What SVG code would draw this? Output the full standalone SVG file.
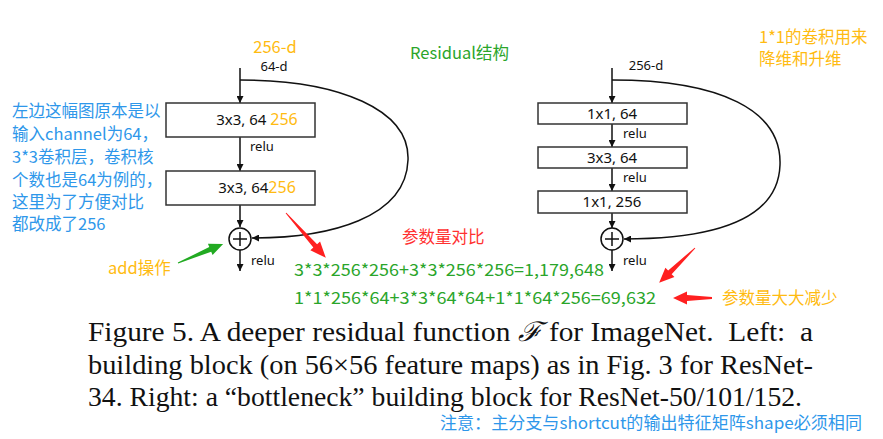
<svg xmlns="http://www.w3.org/2000/svg" width="883" height="439" viewBox="0 0 883 439">
<defs>
<style>
.lab{font-family:"Noto Sans","Noto Sans CJK SC",sans-serif;font-size:15px;fill:#111}
.sm{font-family:"Noto Sans","Noto Sans CJK SC",sans-serif;font-size:13px;fill:#111}
.cn{font-family:"Noto Sans CJK SC","Noto Sans",sans-serif;font-size:16.5px}
.blue{fill:#2e97ea}
.org{fill:#ffbb11}
.grn{fill:#2aa52a}
.red{fill:#ff3030}
.cap{font-family:"Liberation Serif","Times New Roman",serif;font-size:27px;fill:#111}
.box{fill:#fff;stroke:#333;stroke-width:1.5}
.ln{fill:none;stroke:#111;stroke-width:1.5}
</style>
<marker id="ah" viewBox="0 0 10 10" refX="10" refY="5" markerWidth="7" markerHeight="7" markerUnits="userSpaceOnUse" orient="auto">
<path d="M0,0 L10,5 L0,10 Z" fill="#111"/>
</marker>
</defs>
<rect width="883" height="439" fill="#fff"/>

<g id="connectors">
<line class="ln" x1="240" y1="68" x2="240" y2="103" marker-end="url(#ah)"/>
<line class="ln" x1="240" y1="137" x2="240" y2="171" marker-end="url(#ah)"/>
<line class="ln" x1="240" y1="205" x2="240" y2="227" marker-end="url(#ah)"/>
<line class="ln" x1="240" y1="250" x2="240" y2="271" marker-end="url(#ah)"/>
<path class="ln" d="M240,80 C340,80 410,110 408,160 C406,218 330,238 252,238" marker-end="url(#ah)"/>
<line class="ln" x1="612" y1="68" x2="612" y2="103" marker-end="url(#ah)"/>
<line class="ln" x1="612" y1="124" x2="612" y2="147" marker-end="url(#ah)"/>
<line class="ln" x1="612" y1="168" x2="612" y2="191" marker-end="url(#ah)"/>
<line class="ln" x1="612" y1="213" x2="612" y2="228" marker-end="url(#ah)"/>
<line class="ln" x1="612" y1="250" x2="612" y2="271" marker-end="url(#ah)"/>
<path class="ln" d="M612,80 C720,80 782,110 780,165 C778,225 700,239 624,239" marker-end="url(#ah)"/>
</g>

<g id="left-input">
<text class="cn org" x="275" y="53" text-anchor="middle" font-size="16.5">256-d</text>
<text class="sm" x="274" y="71" text-anchor="middle">64-d</text>
</g>
<g id="left-conv1">
<rect class="box" x="166" y="103" width="149" height="34"/>
<text class="lab" x="257" y="125" text-anchor="middle">3x3, 64 <tspan fill="#ffbb11" font-size="16">256</tspan></text>
</g>
<text class="sm" x="250" y="151">relu</text>
<g id="left-conv2">
<rect class="box" x="166" y="171" width="149" height="34"/>
<text class="lab" x="257" y="193" text-anchor="middle">3x3, 64<tspan fill="#ffbb11" font-size="16">256</tspan></text>
</g>
<g id="left-add">
<circle cx="240" cy="239" r="11" fill="#fff" stroke="#111" stroke-width="1.5"/>
<path d="M233,239 H247 M240,232 V246" stroke="#111" stroke-width="1.5"/>
</g>
<text class="sm" x="251" y="265">relu</text>

<g id="right-input">
<text class="sm" x="646" y="70" text-anchor="middle">256-d</text>
</g>
<g id="right-conv1">
<rect class="box" x="538" y="103" width="149" height="21"/>
<text class="lab" x="612" y="119" text-anchor="middle">1x1, 64</text>
</g>
<text class="sm" x="623" y="138">relu</text>
<g id="right-conv2">
<rect class="box" x="538" y="147" width="149" height="21"/>
<text class="lab" x="612" y="163" text-anchor="middle">3x3, 64</text>
</g>
<text class="sm" x="623" y="182">relu</text>
<g id="right-conv3">
<rect class="box" x="538" y="191" width="149" height="22"/>
<text class="lab" x="612" y="207" text-anchor="middle">1x1, 256</text>
</g>
<g id="right-add">
<circle cx="612" cy="239" r="11" fill="#fff" stroke="#111" stroke-width="1.5"/>
<path d="M605,239 H619 M612,232 V246" stroke="#111" stroke-width="1.5"/>
</g>
<text class="sm" x="623" y="265">relu</text>

<g id="annotations">
<text class="cn blue" x="12" y="117">左边这幅图原本是以</text>
<text class="cn blue" x="12" y="140">输入channel为64，</text>
<text class="cn blue" x="12" y="163">3*3卷积层，卷积核</text>
<text class="cn blue" x="12" y="186">个数也是64为例的，</text>
<text class="cn blue" x="12" y="208">这里为了方便对比</text>
<text class="cn blue" x="12" y="230">都改成了256</text>
<text class="cn org" x="108" y="274">add操作</text>
<text class="cn grn" x="410" y="59">Residual结构</text>
<text class="cn red" x="402" y="243">参数量对比</text>
<text class="cn grn" x="294" y="276" textLength="310" lengthAdjust="spacingAndGlyphs">3*3*256*256+3*3*256*256=1,179,648</text>
<text class="cn grn" x="294" y="304" textLength="362" lengthAdjust="spacingAndGlyphs">1*1*256*64+3*3*64*64+1*1*64*256=69,632</text>
<text class="cn org" x="722" y="304">参数量大大减少</text>
<text class="cn org" x="759" y="43">1*1的卷积用来</text>
<text class="cn org" x="759" y="65">降维和升维</text>
<path fill="#22aa22" transform="translate(178,263) rotate(-22.9)" d="M0,-0.5 L35,-2.5 L35,-6 L49,0 L35,6 L35,2.5 L0,0.5 Z"/>
<path fill="#ff2020" transform="translate(286,213) rotate(48.4)" d="M0,-0.5 L44,-2.5 L44,-6.5 L60,0 L44,6.5 L44,2.5 L0,0.5 Z"/>
<path fill="#ff2020" transform="translate(695,248) rotate(135.8)" d="M0,-0.5 L35,-2.5 L35,-6.5 L50,0 L35,6.5 L35,2.5 L0,0.5 Z"/>
<path fill="#ff2020" transform="translate(712,298) rotate(180)" d="M0,-1 L25,-3 L25,-6.5 L39,0 L25,6.5 L25,3 L0,1 Z"/>
</g>

<g id="caption">
<text class="cap" x="88" y="341" textLength="725" lengthAdjust="spacingAndGlyphs">Figure 5. A deeper residual function <tspan font-style="italic" font-family="DejaVu Serif, serif">ℱ</tspan> for ImageNet.&#160; Left:&#160; a</text>
<text class="cap" x="88" y="374" textLength="725" lengthAdjust="spacingAndGlyphs">building block (on 56×56 feature maps) as in Fig. 3 for ResNet-</text>
<text class="cap" x="88" y="406" textLength="714" lengthAdjust="spacingAndGlyphs">34. Right: a “bottleneck” building block for ResNet-50/101/152.</text>
<text class="cn blue" x="440" y="429" font-size="15.5" textLength="422" lengthAdjust="spacingAndGlyphs">注意：主分支与shortcut的输出特征矩阵shape必须相同</text>
</g>
</svg>
